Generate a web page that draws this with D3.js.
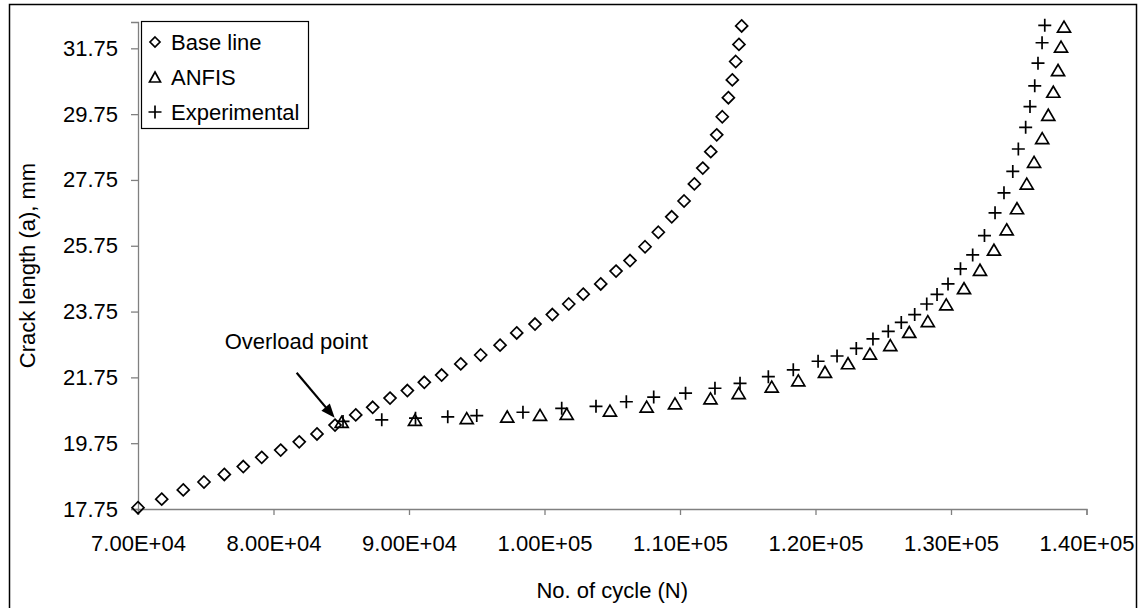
<!DOCTYPE html>
<html>
<head>
<meta charset="utf-8">
<script src="https://cdn.jsdelivr.net/npm/d3@7"></script>
<style>
  html, body { margin: 0; padding: 0; background: #fff; }
  svg { display: block; font-family: "Liberation Sans", Arial, sans-serif; }
</style>
</head>
<body>
<svg id="chart" width="1141" height="608"></svg>
<script>
// ---------------- data ----------------
const baseN = [70000, 71750, 73340, 74870, 76370, 77770, 79130, 80530, 81900, 83210, 84540, 86070, 87320, 88600, 89880, 91130, 92410, 93820, 95290, 96720, 97950, 99300, 100580, 101790, 102860, 104150, 105280, 106310, 107420, 108400, 109390, 110300, 111060, 111680, 112270, 112710, 113120, 113570, 113860, 114110, 114350, 114550];
const baseA = [17.79, 18.05, 18.33, 18.57, 18.80, 19.04, 19.32, 19.54, 19.79, 20.03, 20.30, 20.61, 20.84, 21.12, 21.35, 21.60, 21.82, 22.16, 22.43, 22.73, 23.10, 23.37, 23.66, 23.98, 24.28, 24.59, 24.98, 25.30, 25.72, 26.16, 26.63, 27.11, 27.63, 28.11, 28.61, 29.12, 29.67, 30.25, 30.79, 31.35, 31.87, 32.43];

const anfisN = [85030, 90440, 94260, 97250, 99670, 101640, 104830, 107540, 109630, 112250, 114330, 116770, 118730, 120700, 122400, 124020, 125520, 126920, 128290, 129650, 130960, 132140, 133170, 134110, 134870, 135590, 136130, 136730, 137180, 137550, 137900, 138120, 138340];
const anfisA = [20.40, 20.46, 20.51, 20.56, 20.61, 20.64, 20.74, 20.86, 20.96, 21.11, 21.27, 21.47, 21.66, 21.92, 22.18, 22.47, 22.73, 23.13, 23.46, 23.97, 24.46, 25.02, 25.63, 26.25, 26.89, 27.64, 28.30, 29.02, 29.73, 30.43, 31.09, 31.80, 32.41];

const expN = [85130, 87990, 90480, 92860, 95000, 98410, 101270, 103800, 106040, 108060, 110410, 112580, 114430, 116520, 118360, 120190, 121590, 123010, 124240, 125370, 126330, 127320, 128210, 128970, 129780, 130700, 131600, 132470, 133250, 133910, 134560, 134970, 135510, 135830, 136180, 136420, 136720, 136920];
const expA = [20.41, 20.46, 20.51, 20.55, 20.59, 20.69, 20.81, 20.87, 21.01, 21.15, 21.27, 21.42, 21.57, 21.77, 21.98, 22.24, 22.40, 22.63, 22.92, 23.15, 23.42, 23.66, 23.98, 24.27, 24.59, 25.05, 25.47, 26.06, 26.75, 27.36, 28.01, 28.69, 29.35, 29.98, 30.61, 31.30, 31.92, 32.45];

const xTicks = [70000, 80000, 90000, 100000, 110000, 120000, 130000, 140000];
const yTicks = [17.75, 19.75, 21.75, 23.75, 25.75, 27.75, 29.75, 31.75];
const seriesNames = ["Base line", "ANFIS", "Experimental"];
const overloadLabel = "Overload point";
const xTitle = "No. of cycle (N)";
const yTitle = "Crack length (a), mm";
const overloadN = 85030, overloadA = 20.40;

// ---------------- layout ----------------
const svg = d3.select("#chart");
const L = 138, R = 1086.5, T = 22, B = 509;
const FONT = 22;
const AXIS_COLOR = "#808080";

const x = d3.scaleLinear().domain([70000, 140000]).range([L, R]);
const y = d3.scaleLinear().domain([17.75, 32.55]).range([B, T]);

// outer frame
svg.append("rect")
  .attr("x", 9.5).attr("y", 4.5)
  .attr("width", 1127).attr("height", 620)
  .attr("fill", "#fff").attr("stroke", "#000").attr("stroke-width", 1.5);

function sciFmt(v) {
  const e = Math.floor(Math.log10(v));
  const m = v / Math.pow(10, e);
  const es = (e < 10 ? "0" : "") + e;
  return m.toFixed(2) + "E+" + es;
}

// x axis
const gx = svg.append("g").attr("transform", `translate(0,${B})`)
  .call(d3.axisBottom(x).tickValues(xTicks).tickFormat(sciFmt).tickSizeOuter(0).tickSize(6).tickPadding(20));
gx.select(".domain").attr("stroke", AXIS_COLOR).attr("stroke-width", 1.3);
gx.selectAll(".tick line").attr("stroke", AXIS_COLOR).attr("stroke-width", 1.3);
gx.selectAll(".tick text").attr("font-size", FONT).attr("fill", "#000")
  .attr("font-family", "'Liberation Sans', Arial, sans-serif");

// y axis
const gy = svg.append("g").attr("transform", `translate(${L},0)`)
  .call(d3.axisLeft(y).tickValues(yTicks).tickFormat(d3.format(".2f")).tickSizeOuter(0).tickSize(7).tickPadding(13));
gy.select(".domain").attr("stroke", AXIS_COLOR).attr("stroke-width", 1.3);
gy.selectAll(".tick line").attr("stroke", AXIS_COLOR).attr("stroke-width", 1.3);
gy.selectAll(".tick text").attr("font-size", FONT).attr("fill", "#000")
  .attr("font-family", "'Liberation Sans', Arial, sans-serif");

// axis titles
svg.append("text").attr("x", (L + R) / 2 + 0).attr("y", 598)
  .attr("text-anchor", "middle").attr("font-size", FONT).text(xTitle);
svg.append("text").attr("transform", `translate(35,${(T + B) / 2}) rotate(-90)`)
  .attr("text-anchor", "middle").attr("font-size", FONT).text(yTitle);

// ---------------- markers ----------------
const SW = 1.7;
function diamond(g, cx, cy, s) {
  g.append("path").attr("d", `M${cx},${cy - s}L${cx + s},${cy}L${cx},${cy + s}L${cx - s},${cy}Z`)
    .attr("fill", "none").attr("stroke", "#000").attr("stroke-width", SW);
}
function triangle(g, cx, cy, w, h) {
  g.append("path").attr("d", `M${cx},${cy - h / 2}L${cx + w / 2},${cy + h / 2}L${cx - w / 2},${cy + h / 2}Z`)
    .attr("fill", "none").attr("stroke", "#000").attr("stroke-width", SW);
}
function plus(g, cx, cy, s) {
  g.append("path").attr("d", `M${cx - s},${cy}H${cx + s}M${cx},${cy - s}V${cy + s}`)
    .attr("fill", "none").attr("stroke", "#000").attr("stroke-width", SW);
}

const gBase = svg.append("g");
baseN.forEach((n, i) => diamond(gBase, x(n), y(baseA[i]), 6));
const gAnfis = svg.append("g");
anfisN.forEach((n, i) => triangle(gAnfis, x(n), y(anfisA[i]), 13, 11));
const gExp = svg.append("g");
expN.forEach((n, i) => plus(gExp, x(n), y(expA[i]), 6.5));

// ---------------- overload annotation ----------------
const ox = x(overloadN), oy = y(overloadA);
const tipX = ox - 7, tipY = oy - 4;
const startX = tipX - 38, startY = tipY - 45;
const len = Math.hypot(tipX - startX, tipY - startY);
const ux = (tipX - startX) / len, uy = (tipY - startY) / len;
const hl = 14, hw = 5.5;
const bx = tipX - ux * hl, by = tipY - uy * hl;
svg.append("line").attr("x1", startX).attr("y1", startY).attr("x2", bx + ux * 2).attr("y2", by + uy * 2)
  .attr("stroke", "#000").attr("stroke-width", 2.2);
svg.append("path")
  .attr("d", `M${tipX},${tipY}L${bx - uy * hw},${by + ux * hw}L${bx + uy * hw},${by - ux * hw}Z`)
  .attr("fill", "#000");
svg.append("text").attr("x", ox - 117).attr("y", oy - 72.5)
  .attr("font-size", FONT).text(overloadLabel);

// ---------------- legend ----------------
const lg = svg.append("g");
lg.append("rect").attr("x", 141.5).attr("y", 21.5).attr("width", 167).attr("height", 107)
  .attr("fill", "#fff").attr("stroke", "#000").attr("stroke-width", 1.2);
const legY = [42, 77, 112];
diamond(lg, 155, legY[0], 5);
triangle(lg, 155, legY[1], 11, 10);
plus(lg, 155, legY[2], 6.5);
seriesNames.forEach((s, i) => {
  lg.append("text").attr("x", 171).attr("y", legY[i] + 8).attr("font-size", FONT).text(s);
});
</script>
</body>
</html>
